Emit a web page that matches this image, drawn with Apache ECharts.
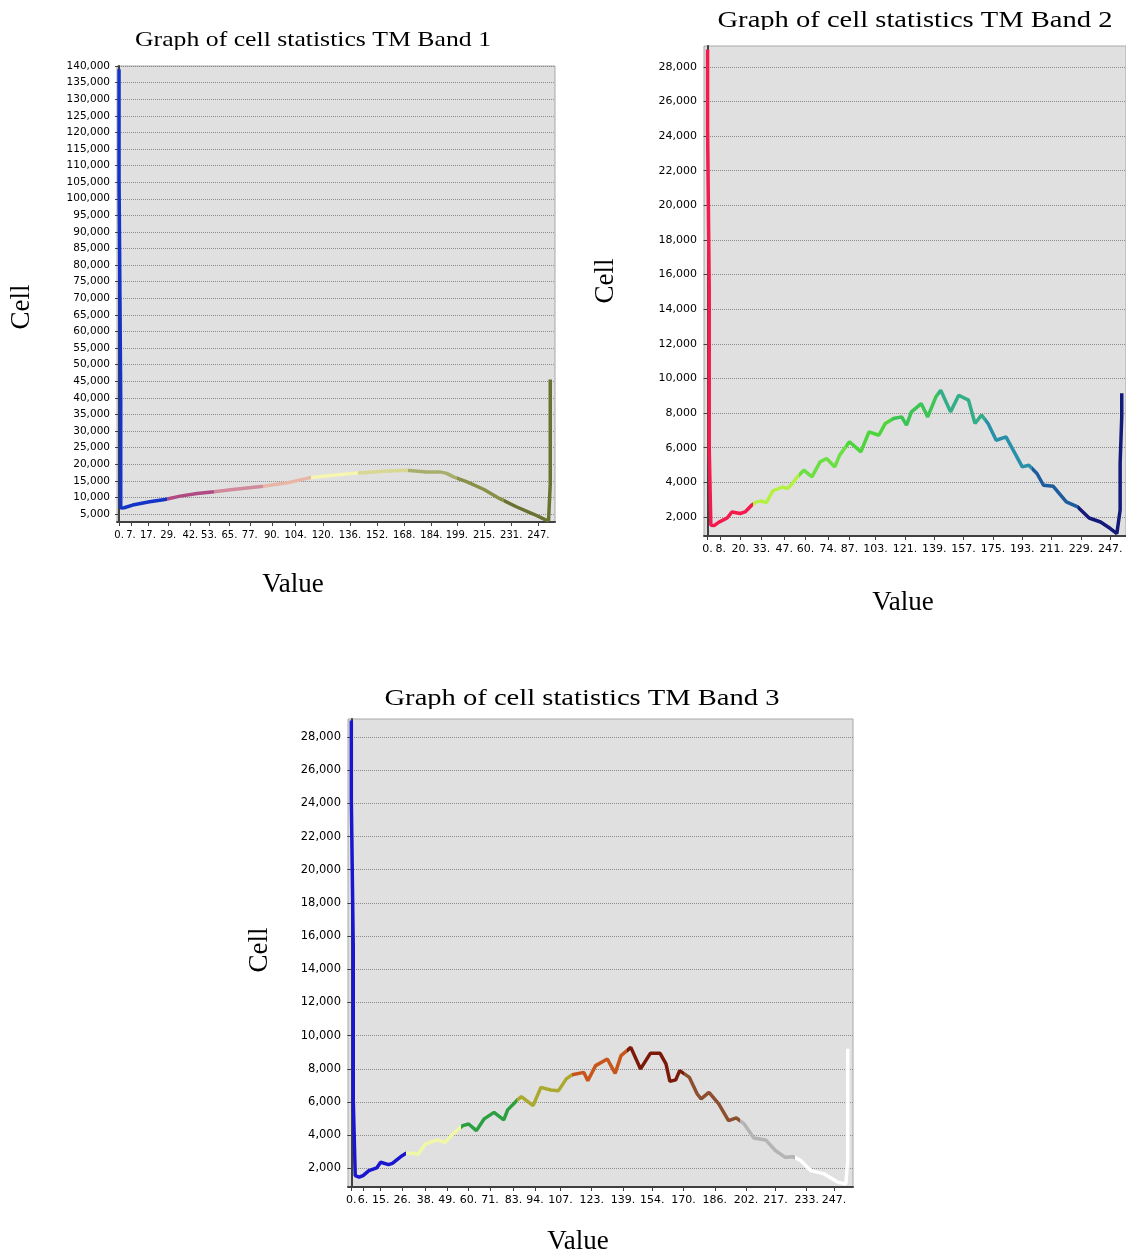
<!DOCTYPE html>
<html>
<head>
<meta charset="utf-8">
<title>Graph of cell statistics TM Band 1-3</title>
<script src="https://cdn.jsdelivr.net/npm/echarts@6/dist/echarts.min.js"></script>
<style>
  html, body { margin: 0; padding: 0; background: #fff; }
  #main { width: 1126px; height: 1257px; }
</style>
</head>
<body>
<div id="main"></div>
<script>
var titles = ['Graph of cell statistics TM Band 1', 'Graph of cell statistics TM Band 2', 'Graph of cell statistics TM Band 3'];

// 直方图数据 [值, 像元数]
var band1Data = [[0, 139000], [0, 106000], [1, 40000], [1, 6800], [3, 6900], [8, 7700], [18, 8700], [27, 9400],
  [36, 10400], [46, 11200], [56, 11700], [67, 12400], [85, 13400], [99, 14400], [112, 15900],
  [126, 16700], [141, 17400], [156, 17900], [169, 18200], [173, 18050], [181, 17650], [189, 17700],
  [193, 17250], [197, 16200], [205, 14700], [215, 12400], [224, 9700], [234, 7200], [244, 5000],
  [251, 3300], [253, 3000], [254, 14000], [254, 35000], [254, 45500]];

var band2Data = [[0, 29000], [0, 24400], [1, 15200], [1, 6000], [2, 1520], [4, 1500], [7, 1700], [12, 1940],
  [15, 2290], [20, 2200], [23, 2290], [27, 2680], [30, 2870], [33, 2920], [36, 2830], [40, 3500],
  [46, 3730], [49, 3640], [52, 3930], [55, 4310], [59, 4700], [64, 4310], [69, 5180], [73, 5380],
  [78, 4890], [81, 5570], [87, 6340], [94, 5760], [99, 6910], [105, 6720], [109, 7400], [114, 7690],
  [119, 7780], [122, 7300], [125, 8070], [131, 8550], [135, 7780], [140, 8940], [143, 9320],
  [149, 8070], [154, 9030], [160, 8750], [164, 7400], [168, 7880], [172, 7400], [177, 6430],
  [183, 6620], [188, 5760], [193, 4890], [197, 4990], [202, 4510], [206, 3830], [212, 3770],
  [220, 2870], [227, 2580], [234, 1940], [241, 1710], [247, 1330], [251, 1040], [252, 1000],
  [253, 2400], [253, 5100], [254, 7800], [254, 9150]];

var band3Data = [[0, 29000], [0, 24300], [1, 15200], [1, 6100], [2, 1550], [4, 1460], [6, 1560], [9, 1860],
  [13, 2020], [15, 2360], [19, 2220], [21, 2300], [26, 2760], [28, 2900], [32, 2900], [34, 2830],
  [38, 3470], [44, 3710], [48, 3570], [52, 4070], [55, 4370], [57, 4570], [60, 4670], [64, 4270],
  [68, 4980], [73, 5370], [78, 4920], [80, 5520], [85, 6120], [87, 6320], [93, 5780], [97, 6880],
  [102, 6720], [106, 6680], [110, 7390], [113, 7640], [119, 7780], [121, 7280], [125, 8190],
  [131, 8590], [135, 7720], [138, 8790], [143, 9290], [148, 7990], [153, 8930], [158, 8930],
  [161, 8290], [163, 7240], [166, 7330], [168, 7890], [173, 7480], [177, 6480], [179, 6180],
  [183, 6580], [188, 5880], [193, 4870], [197, 5040], [201, 4670], [206, 3830], [212, 3710],
  [217, 3070], [222, 2660], [226, 2700], [230, 2460], [235, 1860], [242, 1660], [249, 1160],
  [253, 1050], [254, 2400], [254, 6800], [254, 9200]];

// 坐标轴刻度
var band1XTicks = [0, 7, 17, 29, 42, 53, 65, 77, 90, 104, 120, 136, 152, 168, 184, 199, 215, 231, 247];
var band2XTicks = [0, 8, 20, 33, 47, 60, 74, 87, 103, 121, 139, 157, 175, 193, 211, 229, 247];
var band3XTicks = [0, 6, 15, 26, 38, 49, 60, 71, 83, 94, 107, 123, 139, 154, 170, 186, 202, 217, 233, 247];

var band1YTicks = [5000, 10000, 15000, 20000, 25000, 30000, 35000, 40000, 45000, 50000, 55000, 60000,
  65000, 70000, 75000, 80000, 85000, 90000, 95000, 100000, 105000, 110000, 115000, 120000, 125000,
  130000, 135000, 140000];
var band2YTicks = [2000, 4000, 6000, 8000, 10000, 12000, 14000, 16000, 18000, 20000, 22000, 24000, 26000, 28000];
var band3YTicks = [2000, 4000, 6000, 8000, 10000, 12000, 14000, 16000, 18000, 20000, 22000, 24000, 26000, 28000];

// 分级断点 (9 类)
var classBreaks = [28, 56, 85, 113, 141, 170, 199, 227];

var band1Colors = ['#1434c8', '#b04a82', '#d08a9c', '#e8b6a6', '#f6f6b0', '#d8d894', '#a8ae6c', '#8a9048', '#6a7232'];
var band2Colors = ['#f41a4e', '#b4f044', '#6ce042', '#4cd63c', '#3cc454', '#34ae88', '#2890a8', '#1e5c9c', '#141a78'];
var band3Colors = ['#1a16d0', '#f0f8a8', '#2ca040', '#aaaa30', '#c8561a', '#7c1a0a', '#8c5030', '#b4b4b4', '#ffffff'];

var charts = [
  { data: band1Data, xTicks: band1XTicks, yTicks: band1YTicks, colors: band1Colors,
    grid: { left: 117, top: 66, width: 438, height: 456 },
    xMin: -1.2, xMax: 256.8, yMin: 2600, yMax: 140000, yFont: 10.5, xFont: 10 },
  { data: band2Data, xTicks: band2XTicks, yTicks: band2YTicks, colors: band2Colors,
    grid: { left: 704, top: 46, width: 425, height: 490 },
    xMin: -2.2, xMax: 256.6, yMin: 900, yMax: 29200, yFont: 11, xFont: 11 },
  { data: band3Data, xTicks: band3XTicks, yTicks: band3YTicks, colors: band3Colors,
    grid: { left: 348, top: 719, width: 505, height: 468 },
    xMin: -1.7, xMax: 256.7, yMin: 870, yMax: 29090, yFont: 11.5, xFont: 11 }
];

function thousands(v) {
  return String(v).replace(/\B(?=(\d{3})+(?!\d))/g, ',');
}

function makePieces(colors) {
  var pieces = [];
  for (var k = 0; k < colors.length; k++) {
    var p = { color: colors[k] };
    if (k > 0) p.gte = classBreaks[k - 1];
    if (k < classBreaks.length) p.lt = classBreaks[k];
    pieces.push(p);
  }
  return pieces;
}

var option = {
  animation: false,
  backgroundColor: '#ffffff',
  grid: [], xAxis: [], yAxis: [], series: [], visualMap: [], graphic: []
};

charts.forEach(function (c, i) {
  option.grid.push(Object.assign({
    show: true, backgroundColor: '#e0e0e0', borderColor: '#a8a8a8', borderWidth: 1
  }, c.grid));

  option.xAxis.push({
    type: 'value', gridIndex: i, min: c.xMin, max: c.xMax,
    axisLine: { onZero: false, lineStyle: { color: '#404040', width: 2 } },
    axisTick: { customValues: c.xTicks, length: 4, lineStyle: { color: '#404040' } },
    axisLabel: {
      customValues: c.xTicks, margin: 8, color: '#000', fontSize: c.xFont, fontFamily: 'DejaVu Sans',
      formatter: function (v) { return Math.floor(v) + '.'; }
    },
    splitLine: { show: false }
  });

  option.yAxis.push({
    type: 'value', gridIndex: i, min: c.yMin, max: c.yMax,
    axisLine: { show: true, lineStyle: { color: '#404040', width: 2 } },
    axisTick: { customValues: c.yTicks, length: 4, lineStyle: { color: '#404040' } },
    axisLabel: {
      customValues: c.yTicks, margin: 7, color: '#000', fontSize: c.yFont, fontFamily: 'DejaVu Sans',
      formatter: thousands
    },
    splitLine: { show: true, lineStyle: { type: 'dotted', color: '#8a8a8a', width: 1 } }
  });

  option.series.push({
    type: 'line', xAxisIndex: i, yAxisIndex: i, data: c.data,
    symbol: 'none', showSymbol: false,
    lineStyle: { width: 3.5 }
  });

  option.visualMap.push({
    type: 'piecewise', show: false, seriesIndex: i, dimension: 0,
    pieces: makePieces(c.colors)
  });
});

// 标题与坐标轴名称
var serif = '"Liberation Serif", "Times New Roman", serif';
function addText(text, x, y, size, sx, rot) {
  option.graphic.push({
    type: 'text', x: x, y: y, scaleX: sx || 1, rotation: rot || 0, z: 10,
    style: { text: text, font: size + 'px ' + serif, fill: '#000', align: 'center', verticalAlign: 'middle' }
  });
}
addText(titles[0], 313, 40, 22, 1.17);
addText(titles[1], 915, 21, 24, 1.19);
addText(titles[2], 582, 699, 24, 1.19);

// 标题下沿被裁切
function addMask(x, y, w, h) {
  option.graphic.push({
    type: 'rect', z: 20, shape: { x: x, y: y, width: w, height: h },
    style: { fill: '#ffffff' }
  });
}
addMask(125, 50, 380, 8);
addMask(700, 30, 426, 13);
addMask(370, 709, 430, 8);

addText('Cell', 22, 307, 27, 1, Math.PI / 2);
addText('Cell', 606, 281, 27, 1, Math.PI / 2);
addText('Cell', 260, 950, 27, 1, Math.PI / 2);
addText('Value', 293, 585, 27);
addText('Value', 903, 603, 27);
addText('Value', 578, 1242, 27);

var chart = echarts.init(document.getElementById('main'), null, { renderer: 'canvas' });
chart.setOption(option);
</script>
</body>
</html>
